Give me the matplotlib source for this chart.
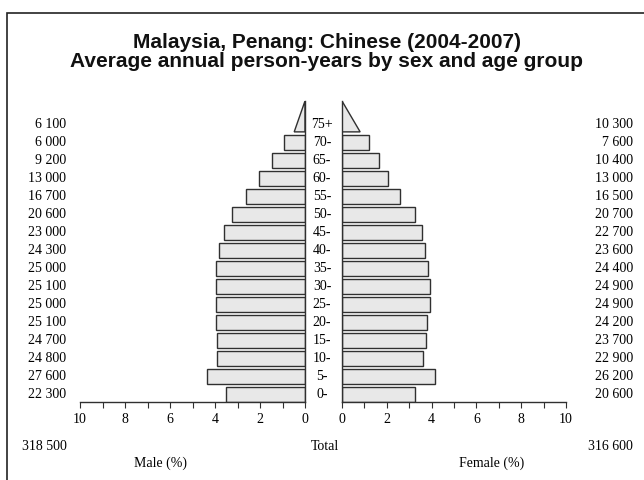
import matplotlib
matplotlib.use("Agg")
import matplotlib.pyplot as plt
import matplotlib.transforms as mtransforms
from matplotlib.patches import Polygon, Rectangle

# Age groups, youngest first
ages = ["0-", "5-", "10-", "15-", "20-", "25-", "30-", "35-", "40-", "45-",
        "50-", "55-", "60-", "65-", "70-", "75+"]

# Share of total population (%)
male_pct = [3.51, 4.35, 3.90, 3.89, 3.95, 3.94, 3.95, 3.94, 3.83, 3.62,
            3.24, 2.63, 2.05, 1.45, 0.94, 0.96]
female_pct = [3.24, 4.13, 3.61, 3.73, 3.81, 3.92, 3.92, 3.84, 3.72, 3.57,
              3.26, 2.60, 2.05, 1.64, 1.20, 1.62]

# Person-years labels
male_counts = ["22 300", "27 600", "24 800", "24 700", "25 100", "25 000",
               "25 100", "25 000", "24 300", "23 000", "20 600", "16 700",
               "13 000", "9 200", "6 000", "6 100"]
female_counts = ["20 600", "26 200", "22 900", "23 700", "24 200", "24 900",
                 "24 900", "24 400", "23 600", "22 700", "20 700", "16 500",
                 "13 000", "10 400", "7 600", "10 300"]
male_total = "318 500"
female_total = "316 600"

title = ("Malaysia, Penang: Chinese (2004-2007)\n"
         "Average annual person-years by sex and age group")

W, H = 644, 480
serif = "Liberation Serif"
fill = "#e8e8e8"
edge = "#303030"
bar_h = 0.83
y_lo, y_hi = -0.42, 16.3

fig = plt.figure(figsize=(W / 100, H / 100), dpi=100)

# Frame of the figure (cropped at right and bottom)
fig.patches.append(Rectangle((7 / W, -0.1), 1.2, (H - 13) / H + 0.1,
                             transform=fig.transFigure, fill=False,
                             edgecolor="#222222", linewidth=1.2))

fig.text(327 / W, 1 - 52 / H, title, ha="center", va="center",
         fontsize=15, fontweight="bold", family="Liberation Sans",
         linespacing=0.98, color="#111111")

ax_m = fig.add_axes([80 / W, 78 / H, 225 / W, 301 / H])
ax_f = fig.add_axes([342 / W, 78 / H, 224 / W, 301 / H])

ypos = list(range(len(ages)))

# Bars for all closed age groups
ax_m.barh(ypos[:-1], male_pct[:-1], height=bar_h, color=fill,
          edgecolor=edge, linewidth=1.0)
ax_f.barh(ypos[:-1], female_pct[:-1], height=bar_h, color=fill,
          edgecolor=edge, linewidth=1.0)

# Open-ended top group drawn as a triangle
base_y = ypos[-1] - bar_h / 2
ax_m.add_patch(Polygon([(0, base_y), (male_pct[-1] / 2, base_y), (0, y_hi)],
                       closed=True, facecolor=fill, edgecolor=edge,
                       linewidth=1.0))
ax_f.add_patch(Polygon([(0, base_y), (female_pct[-1] / 2, base_y), (0, y_hi)],
                       closed=True, facecolor=fill, edgecolor=edge,
                       linewidth=1.0))

for ax in (ax_m, ax_f):
    ax.set_xlim(0, 10)
    ax.set_ylim(y_lo, y_hi)
    ax.set_yticks([])
    ax.set_xticks(range(0, 11))
    ax.set_xticklabels([str(v) if v % 2 == 0 else "" for v in range(11)],
                       family=serif, fontsize=10)
    ax.tick_params(axis="x", direction="out", length=4, width=0.8,
                   color=edge, pad=4)
    ax.spines["top"].set_visible(False)
    for s in ax.spines.values():
        s.set_color(edge)
        s.set_linewidth(1.0)
    ax.patch.set_visible(False)

ax_m.invert_xaxis()
ax_m.spines["left"].set_visible(False)
ax_f.spines["right"].set_visible(False)

# Age labels and counts, x in figure coords, y in data rows
trans = mtransforms.blended_transform_factory(fig.transFigure, ax_m.transData)
for i in ypos:
    fig.text(322 / W, i, ages[i], transform=trans, ha="center", va="center",
             family=serif, fontsize=10)
    fig.text(66 / W, i, male_counts[i], transform=trans, ha="right",
             va="center", family=serif, fontsize=10)
    fig.text(633 / W, i, female_counts[i], transform=trans, ha="right",
             va="center", family=serif, fontsize=10)

fig.text(22 / W, 1 - 446 / H, male_total, ha="left", va="center",
         family=serif, fontsize=10)
fig.text(633 / W, 1 - 446 / H, female_total, ha="right", va="center",
         family=serif, fontsize=10)
fig.text(325 / W, 1 - 446 / H, "Total", ha="center", va="center",
         family=serif, fontsize=10)
fig.text(160 / W, 1 - 463 / H, "Male (%)", ha="center", va="center",
         family=serif, fontsize=10)
fig.text(492 / W, 1 - 463 / H, "Female (%)", ha="center", va="center",
         family=serif, fontsize=10)

fig.savefig("out.png", dpi=100)
